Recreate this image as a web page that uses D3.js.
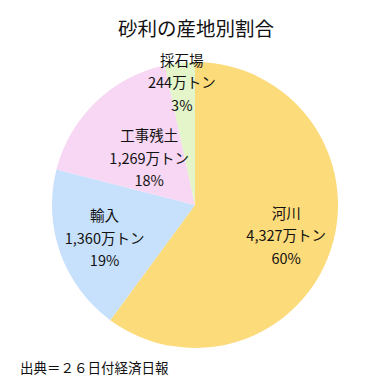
<!DOCTYPE html>
<html>
<head>
<meta charset="utf-8">
<script src="https://cdn.jsdelivr.net/npm/d3@7"></script>
<style>
  html, body { margin: 0; padding: 0; background: #fff; }
  svg { display: block; font-family: "Noto Sans CJK JP", "Noto Sans", sans-serif; }
</style>
</head>
<body>
<svg id="chart" width="383" height="384"></svg>
<script>
const title = "砂利の産地別割合";
const source = "出典＝２６日付経済日報";
const categories = ["河川", "輸入", "工事残土", "採石場"];
const amounts = [4327, 1360, 1269, 244];
const amountLabels = ["4,327万トン", "1,360万トン", "1,269万トン", "244万トン"];
const percentLabels = ["60%", "19%", "18%", "3%"];
const colors = ["#FCDB7A", "#C7E0FC", "#F7D7F3", "#E3F5C9"];

const svg = d3.select("#chart");
const cx = 195, cy = 205, r = 143;
const labelRadius = [96, 96, 66, 124];

svg.append("text")
  .attr("x", 196).attr("y", 27)
  .attr("text-anchor", "middle").attr("dominant-baseline", "central")
  .attr("font-size", 19.5).attr("fill", "#111")
  .text(title);

const data = categories.map((c, i) => ({ cat: c, value: amounts[i], amt: amountLabels[i], pct: percentLabels[i], i }));
const pie = d3.pie().value(d => d.value).sort(null);
const arcs = pie(data);
const arc = d3.arc().innerRadius(0).outerRadius(r);
const color = d3.scaleOrdinal().domain(categories).range(colors);

const g = svg.append("g").attr("transform", `translate(${cx},${cy})`);
g.selectAll("path").data(arcs).enter().append("path")
  .attr("d", arc)
  .attr("fill", d => color(d.data.cat));

const lg = g.selectAll("g.lbl").data(arcs).enter().append("g")
  .attr("class", "lbl")
  .attr("transform", d => {
    const a = (d.startAngle + d.endAngle) / 2;
    const lr = labelRadius[d.data.i];
    return `translate(${lr * Math.sin(a)},${-lr * Math.cos(a)})`;
  });
lg.each(function(d) {
  const s = d3.select(this);
  [d.data.cat, d.data.amt, d.data.pct].forEach((t, k) => {
    s.append("text")
      .attr("x", 0).attr("y", (k - 1) * 22.5)
      .attr("text-anchor", "middle").attr("dominant-baseline", "central")
      .attr("font-size", 14.5).attr("fill", "#111")
      .text(t);
  });
});

svg.append("text")
  .attr("x", 20).attr("y", 367)
  .attr("dominant-baseline", "central")
  .attr("font-size", 13.5).attr("fill", "#111")
  .text(source);
</script>
</body>
</html>
